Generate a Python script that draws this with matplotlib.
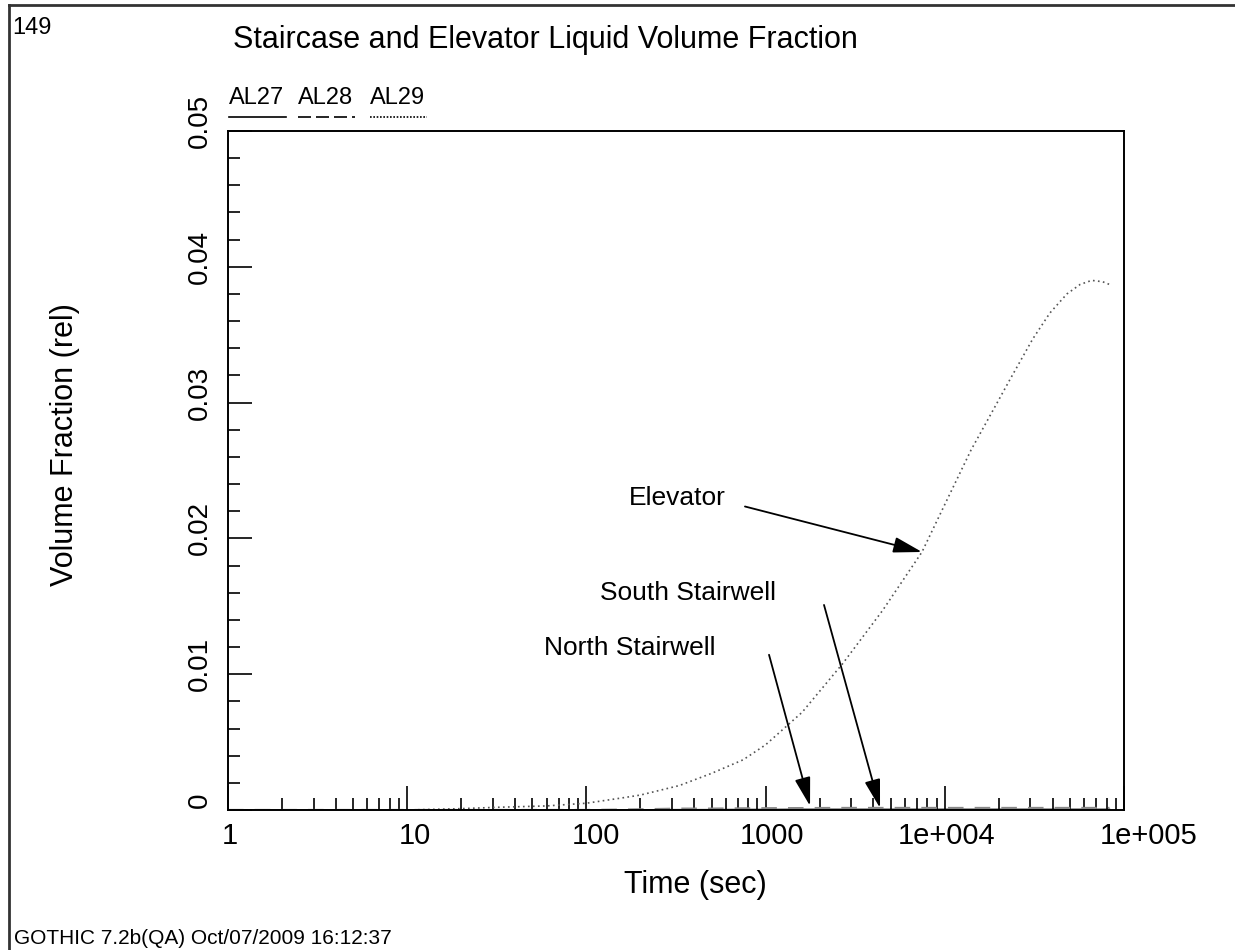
import numpy as np
import matplotlib
matplotlib.use("Agg")
import matplotlib.pyplot as plt
from matplotlib.lines import Line2D
from matplotlib.ticker import FixedLocator, NullFormatter
from matplotlib.transforms import ScaledTranslation

plt.rcParams['font.family'] = ['Liberation Sans', 'DejaVu Sans']

# ---- data -------------------------------------------------------------
time_s = [1, 10, 20, 32, 60, 100, 160, 200, 330, 500, 750, 1000, 1600,
          2700, 4500, 7460, 10000, 14000, 20000, 23100, 31000, 38600,
          48000, 56900, 66000, 76000, 83000]
elevator_al29 = [0.0, 0.0, 0.0001, 0.0002, 0.0003, 0.0005, 0.0009, 0.0011,
                 0.0018, 0.0027, 0.0037, 0.0048, 0.0072, 0.0108, 0.0147,
                 0.0190, 0.0225, 0.0265, 0.0302, 0.0317, 0.0347, 0.0366,
                 0.0380, 0.0387, 0.0390, 0.0389, 0.0387]
north_al27 = [0.0, 0.0, 0.0, 0.0, 0.0, 0.0, 0.00001, 0.00002, 0.00003,
              0.00003, 0.00004, 0.00004, 0.00005, 0.00005, 0.00005, 0.00005,
              0.00005, 0.00005, 0.00005, 0.00005, 0.00005, 0.00005, 0.00005,
              0.00005, 0.00005, 0.00005, 0.00005]
south_al28 = [0.0, 0.0, 0.0, 0.0, 0.0, 0.0, 0.00003, 0.00005, 0.0001,
              0.0001, 0.00012, 0.00013, 0.00014, 0.00015, 0.00015, 0.00015,
              0.00015, 0.00015, 0.00015, 0.00015, 0.00015, 0.00015, 0.00015,
              0.00015, 0.00015, 0.00015, 0.00015]

x_ticks = [1, 10, 100, 1000, 1e4, 1e5]
x_tick_labels = ["1", "10", "100", "1000", "1e+004", "1e+005"]
y_ticks = [0, 0.01, 0.02, 0.03, 0.04, 0.05]
y_tick_labels = ["0", "0.01", "0.02", "0.03", "0.04", "0.05"]
legend_names = ["AL27", "AL28", "AL29"]

# annotations: (label, text position, arrow tail, arrow tip)
notes = [
    ("Elevator", (320, 0.0230), (767, 0.02235), (7460, 0.0190)),
    ("South Stairwell", (369, 0.0160), (2118, 0.0151), (4350, 0.00015)),
    ("North Stairwell", (175, 0.01195), (1045, 0.01143), (1770, 0.0003)),
]

# ---- figure -----------------------------------------------------------
W, H = 1235, 950
fig = plt.figure(figsize=(W / 100, H / 100), dpi=100)
ax = fig.add_axes([228 / W, 1 - 810 / H, (1124 - 228) / W, (810 - 131) / H])

ax.plot(time_s, north_al27, color="black", lw=1.0)
ax.plot(time_s, south_al28, color="#888888", lw=1.6, dashes=(7, 5))
ax.plot(time_s, elevator_al29, color="#555555", lw=1.2, linestyle=(0, (1, 2)))

ax.set_xscale("log")
ax.set_xlim(1, 1e5)
ax.set_ylim(0, 0.05)

for s in ax.spines.values():
    s.set_linewidth(1.4)

ax.xaxis.set_major_locator(FixedLocator(x_ticks))
ax.xaxis.set_minor_locator(FixedLocator(
    [m * 10 ** d for d in range(0, 5) for m in range(2, 10)]))
ax.xaxis.set_major_formatter(NullFormatter())
ax.xaxis.set_minor_formatter(NullFormatter())

ax.yaxis.set_major_locator(FixedLocator(y_ticks))
ax.yaxis.set_minor_locator(FixedLocator(np.arange(0.002, 0.05, 0.002)))
ax.yaxis.set_major_formatter(NullFormatter())

ax.tick_params(which="major", direction="in", length=17, width=1.2,
               top=False, right=False)
ax.tick_params(which="minor", direction="in", length=8.5, width=1.2,
               top=False, right=False)

# x tick labels, with the small horizontal nudges of the plotting package
x_nudge_px = [2, 8, 10, 6, 2, 25]
for v, t, dx in zip(x_ticks, x_tick_labels, x_nudge_px):
    off = ScaledTranslation(dx / 100, -12 / 100, fig.dpi_scale_trans)
    ax.text(v, 0, t, transform=ax.get_xaxis_transform() + off,
            ha="center", va="top", fontsize=21)

# rotated y tick labels
lift = ScaledTranslation(0, 0.10, fig.dpi_scale_trans)
for v, t in zip(y_ticks, y_tick_labels):
    ax.text(-0.017, v, t, transform=ax.get_yaxis_transform() + lift,
            rotation=90, ha="right", va="center", fontsize=20)

fig.text(695 / W, 1 - 885 / H, "Time (sec)", ha="center", va="center",
         fontsize=22)
fig.text(65 / W, 1 - 445 / H, "Volume Fraction (rel)", rotation=90,
         ha="center", va="center", fontsize=22)

for label, txt, tail, tip in notes:
    ax.text(txt[0], txt[1], label, ha="center", va="center", fontsize=19)
    ax.annotate("", xy=tip, xytext=tail,
                arrowprops=dict(arrowstyle="-|>,head_length=0.8,head_width=0.22",
                                mutation_scale=22, lw=1.3, color="black",
                                shrinkA=0, shrinkB=0))

# legend row above the frame
lx = [229, 298, 370]
styles = [dict(color="black", lw=1.2, linestyle="-"),
          dict(color="black", lw=1.2, dashes=(7.8, 3.0)),
          dict(color="black", lw=1.2, linestyle=(0, (1, 1)))]
for x0, name, st in zip(lx, legend_names, styles):
    fig.text(x0 / W, 1 - 98 / H, name, ha="left", va="center", fontsize=17)
    fig.add_artist(Line2D([x0 / W, (x0 + 57) / W], [1 - 117 / H] * 2,
                          transform=fig.transFigure, **st))

fig.text(233 / W, 1 - 40 / H, "Staircase and Elevator Liquid Volume Fraction",
         ha="left", va="center", fontsize=22)
fig.text(12 / W, 1 - 28 / H, "149", ha="left", va="center", fontsize=17)
fig.text(14 / W, 1 - 938 / H, "GOTHIC 7.2b(QA) Oct/07/2009 16:12:37",
         ha="left", va="center", fontsize=15)

# page frame
fig.add_artist(Line2D([9 / W, 1], [1 - 5 / H] * 2, transform=fig.transFigure,
                      color="#333333", lw=2))
fig.add_artist(Line2D([9 / W] * 2, [0, 1 - 5 / H], transform=fig.transFigure,
                      color="#333333", lw=2))

fig.savefig("out.png", dpi=100, facecolor="white")
